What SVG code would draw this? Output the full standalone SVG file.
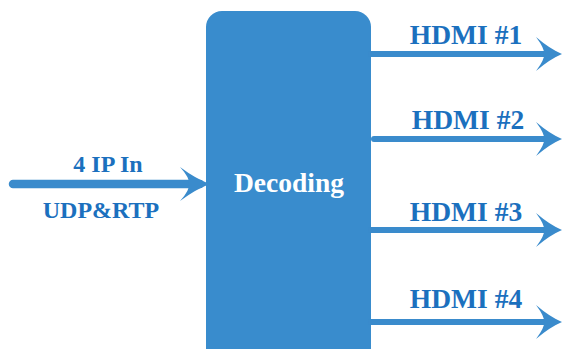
<svg xmlns="http://www.w3.org/2000/svg" width="563" height="349" viewBox="0 0 563 349">
  <style>
    .lbl { font-family: "Liberation Serif", "Times New Roman", serif; font-weight: bold; fill: #1b70be; text-anchor: middle; }
    .out { font-size: 27.5px; }
    .in { font-size: 24px; }
    .node-text { font-family: "Liberation Serif", "Times New Roman", serif; font-weight: bold; fill: #ffffff; font-size: 27.5px; text-anchor: middle; }
    .conn { stroke: #3a8bcc; fill: none; stroke-linecap: round; }
  </style>
  <defs>
    <marker id="headOut" markerUnits="userSpaceOnUse" markerWidth="27" markerHeight="36" viewBox="0 0 27 36" refX="18" refY="18" orient="auto">
      <path d="M0,1 Q14,13 26,18 Q14,23 0,35 Q9,23 8,18 Q9,13 0,1 Z" fill="#3a8bcc"/>
    </marker>
    <marker id="headIn" markerUnits="userSpaceOnUse" markerWidth="31" markerHeight="36" viewBox="0 0 31 36" refX="20" refY="18" orient="auto">
      <path d="M0,1 Q16,13 30,18 Q16,23 0,35 Q10,24 9,18 Q10,12 0,1 Z" fill="#3a8bcc"/>
    </marker>
  </defs>

  <g id="decoding">
    <rect x="206" y="11" width="165" height="360" rx="16" ry="16" fill="#398ccd"/>
    <text class="node-text" x="289" y="192">Decoding</text>
  </g>

  <g id="connectors">
    <line class="conn" x1="13" y1="184" x2="200" y2="184" stroke-width="8.5" marker-end="url(#headIn)"/>
    <line class="conn" x1="371" y1="54" x2="554" y2="54" stroke-width="6" marker-end="url(#headOut)"/>
    <line class="conn" x1="374" y1="139" x2="554" y2="139" stroke-width="6" marker-end="url(#headOut)"/>
    <line class="conn" x1="371" y1="230" x2="554" y2="230" stroke-width="6" marker-end="url(#headOut)"/>
    <line class="conn" x1="371" y1="322" x2="554" y2="322" stroke-width="6" marker-end="url(#headOut)"/>
  </g>

  <g id="input-labels">
    <text class="lbl in" x="108" y="172">4 IP In</text>
    <text class="lbl in" x="101" y="218">UDP&amp;RTP</text>
  </g>

  <g id="hdmi1"><text class="lbl out" x="466" y="44">HDMI #1</text></g>
  <g id="hdmi2"><text class="lbl out" x="468" y="129">HDMI #2</text></g>
  <g id="hdmi3"><text class="lbl out" x="466" y="221">HDMI #3</text></g>
  <g id="hdmi4"><text class="lbl out" x="466" y="308">HDMI #4</text></g>
</svg>
